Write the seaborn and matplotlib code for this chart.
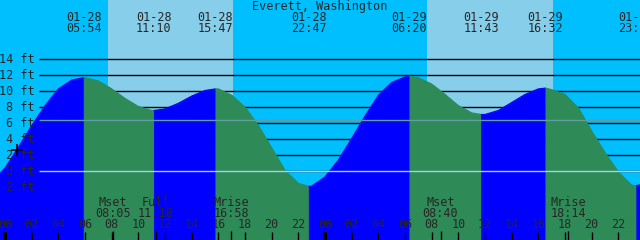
import pandas as pd
import matplotlib
matplotlib.use("Agg")
import matplotlib.pyplot as plt
import seaborn as sns

station = "Everett, Washington"

# tide height, one value per hour (hours counted from 01-28 00:00)
hours = list(range(-1, 49))
height_ft = [-1.4, 0.4, 3.0, 5.7, 8.2, 10.3, 11.4, 11.7, 11.3, 10.3,
             9.1, 8.1, 7.6, 7.8, 8.5, 9.4, 10.1, 10.3, 9.5, 8.0,
             5.7, 2.9, 0.1, -1.5, -1.85, -0.7, 1.4, 4.1, 6.9, 9.5,
             11.1, 11.8, 11.7, 10.9, 9.6, 8.2, 7.3, 7.1, 7.6, 8.6,
             9.6, 10.3, 10.2, 9.6, 7.9, 5.0, 2.3, -0.1, -1.75, -1.5]

# high / low tides (labels along the top)
event_dates = ["01-28", "01-28", "01-28", "01-28", "01-29", "01-29", "01-29", "01-29"]
event_times = ["05:54", "11:10", "15:47", "22:47", "06:20", "11:43", "16:32", "23:21"]
event_ft = [11.7, 7.6, 10.3, -1.9, 11.9, 7.1, 10.4, -1.8]

# moon events (labels along the bottom)
moon_names = ["Mset", "Full", "Mrise", "Mset", "Mrise"]
moon_dates = ["01-28", "01-28", "01-28", "01-29", "01-29"]
moon_times = ["08:05", "11:18", "16:58", "08:40", "18:14"]

# daylight
sunrise = [("01-28", "07:42"), ("01-29", "07:38")]
sunset = [("01-28", "17:05"), ("01-29", "17:05")]

# the "now" cross on the curve
now_time = ("01-28", "00:52")
now_ft = 2.7

depth_levels = [-2, 0, 2, 4, 6, 8, 10, 12, 14]
msl_ft = 6.35
hour_labels = ["00", "02", "04", "06", "08", "10", "12", "14", "16", "18", "20", "22"]


def to_hours(date, hm):
    day = 0 if date == "01-28" else 24
    h, m = hm.split(":")
    return day + int(h) + int(m) / 60


event_hours = [to_hours(d, t) for d, t in zip(event_dates, event_times)]

# pixel helpers for placing the text like the original
T0, PX_H = -0.375, 640 / 48
FT_TOP, PX_FT = 21.41, 8.0


def tx(px):
    return T0 + px / PX_H


def fy(py):
    return FT_TOP - py / PX_FT


DAY = "#87ceeb"
NIGHT = "#00bfff"
RISE = "#0000ff"
FALL = "#2e8b57"

sns.set_style("white")
plt.rcParams["font.family"] = ["DejaVu Sans Mono", "DejaVu Sans"]

fig = plt.figure(figsize=(6.4, 2.4), dpi=100)
ax = fig.add_axes([0, 0, 1, 1])
ax.set_facecolor(NIGHT)
ax.set_xlim(T0, T0 + 48)
ax.set_ylim(fy(240), FT_TOP)
ax.axis("off")
fig.patch.set_facecolor(NIGHT)

for (d1, t1), (d2, t2) in zip(sunrise, sunset):
    ax.axvspan(to_hours(d1, t1), to_hours(d2, t2), color=DAY, lw=0, zorder=0)

# depth lines sit behind the water
ax.hlines(depth_levels, tx(39), T0 + 48, color="black", lw=1, zorder=1)

# build rising / falling segments between the extremes
pts = pd.DataFrame({"hour": hours + event_hours, "ft": height_ft + event_ft})
pts = pts.sort_values("hour").reset_index(drop=True)
bounds = [hours[0]] + event_hours + [hours[-1]]
segs = []
for k in range(len(bounds) - 1):
    s = pts[(pts.hour >= bounds[k] - 1e-9) & (pts.hour <= bounds[k + 1] + 1e-9)].copy()
    s["seg"] = k
    segs.append(s)
df = pd.concat(segs, ignore_index=True)
seg_colors = {}
for k, s in enumerate(segs):
    seg_colors[k] = RISE if s.ft.iloc[-1] > s.ft.iloc[0] else FALL
    ax.fill_between(s.hour, s.ft, fy(260), color=seg_colors[k], lw=0.6,
                    edgecolor=seg_colors[k], zorder=2)

sns.lineplot(data=df, x="hour", y="ft", hue="seg", palette=seg_colors, legend=False,
             estimator=None, sort=False, lw=0.8, ax=ax, zorder=2)

# mean sea level and datum
ax.hlines(msl_ft, tx(39), T0 + 48, color="#5f9ea0", lw=1, zorder=3)
ax.hlines(0, tx(39), T0 + 48, color="#9fd4f0", lw=1, zorder=3)

fs = 8.5
for lv in depth_levels:
    ax.text(tx(35), lv, f"{lv} ft", ha="right", va="center", fontsize=fs, zorder=4)

ax.text(tx(320), fy(6.5), station, ha="center", va="center", fontsize=fs, zorder=4)
for h, d, t in zip(event_hours, event_dates, event_times):
    ax.text(h, fy(17.5), d, ha="center", va="center", fontsize=fs, zorder=4)
    ax.text(h, fy(29), t, ha="center", va="center", fontsize=fs, zorder=4)

for name, d, t in zip(moon_names, moon_dates, moon_times):
    h = to_hours(d, t)
    ax.text(h, fy(202), name, ha="center", va="center", fontsize=fs, zorder=4)
    ax.text(h, fy(213.5), t, ha="center", va="center", fontsize=fs, zorder=4)
    ax.vlines(h, fy(231), fy(241), color="black", lw=1, zorder=4)

for day in (0, 24, 48):
    for i, lab in enumerate(hour_labels):
        h = day + 2 * i
        if h > 48:
            break
        ax.text(h, fy(225), lab, ha="center", va="center", fontsize=fs, zorder=4)
        ax.vlines(h, fy(232), fy(241), color="black", lw=3 if i == 0 else 1, zorder=4)

ax.plot([to_hours(*now_time)], [now_ft], marker="+", color="black", ms=9, mew=1.2, zorder=5)

fig.savefig("out.png", dpi=100, facecolor=fig.get_facecolor())
